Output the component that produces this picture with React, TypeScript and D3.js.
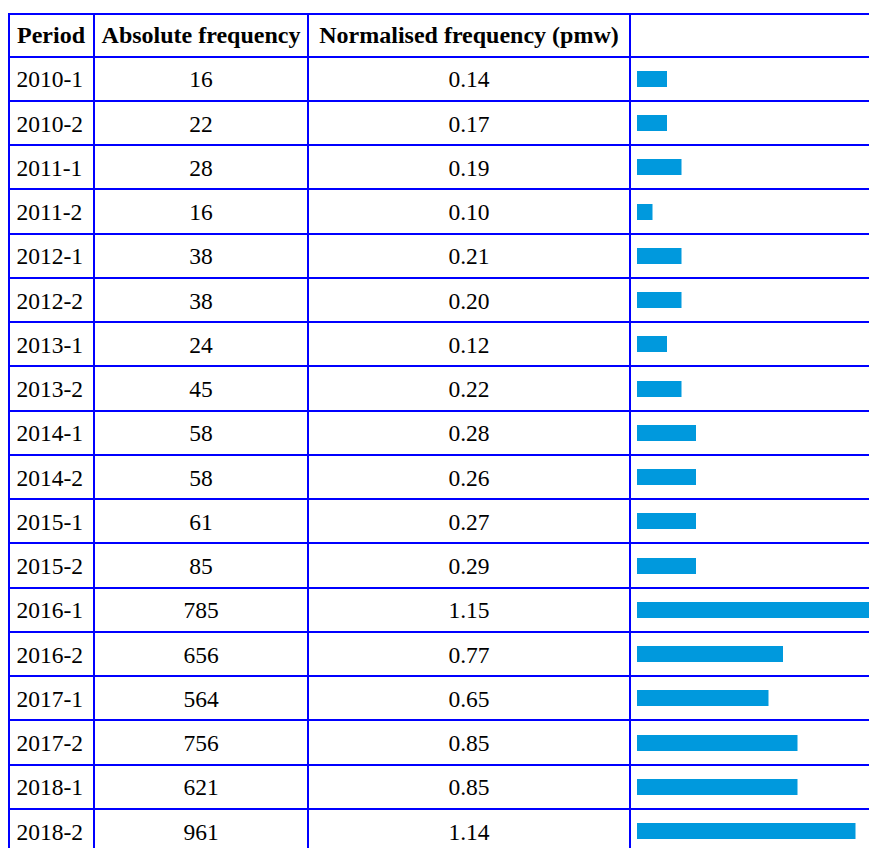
import React from "react";
import * as d3 from "d3";

const headers = ["Period", "Absolute frequency", "Normalised frequency (pmw)", ""];
const periods = [
  "2010-1", "2010-2", "2011-1", "2011-2", "2012-1", "2012-2", "2013-1", "2013-2", "2014-1",
  "2014-2", "2015-1", "2015-2", "2016-1", "2016-2", "2017-1", "2017-2", "2018-1", "2018-2",
];
const absoluteFrequency = [16, 22, 28, 16, 38, 38, 24, 45, 58, 58, 61, 85, 785, 656, 564, 756, 621, 961];
const normalisedFrequency = [0.14, 0.17, 0.19, 0.1, 0.21, 0.2, 0.12, 0.22, 0.28, 0.26, 0.27, 0.29, 1.15, 0.77, 0.65, 0.85, 0.85, 1.14];
// bar length in blocks
const barBlocks = [2, 2, 3, 1, 3, 3, 2, 3, 4, 4, 4, 4, 16, 10, 9, 11, 11, 15];

const W = 869;
const H = 848;
const BLUE = "#0000ff";
const BAR = "#0099dd";
const FONT = "'Liberation Serif', 'Times New Roman', serif";

export default function App() {
  const colEdges = [9, 94, 308, 630, 890];
  const tableTop = 14;
  const headerBottom = 56.7;
  const rowH = 44.25;

  const y = d3
    .scaleBand<string>()
    .domain(periods)
    .range([headerBottom, headerBottom + rowH * periods.length])
    .paddingInner(0)
    .paddingOuter(0);

  const barX = d3.scaleLinear().domain([0, 15]).range([1, 218.5]);
  const fmt = d3.format(".2f");
  const barStart = colEdges[3] + 7;
  const barH = 16;
  const fontSize = 23.5;
  const headerSize = 24;

  const hLines = [tableTop, headerBottom, ...periods.map((p) => (y(p) as number) + rowH)].map((v) => Math.round(v));
  const tableBottom = headerBottom + rowH * periods.length;
  const headerMid = (13.7 + headerBottom) / 2;

  return (
    <svg
      width={W}
      height={H}
      style={{ position: "absolute", left: 0, top: 0, background: "#fff" }}
      fontFamily={FONT}
    >
      <rect x={0} y={0} width={W} height={H} fill="#fff" />
      {headers.map((h, i) => (
        <text
          key={"h" + i}
          x={i === 0 ? colEdges[0] + 8 : (colEdges[i] + colEdges[i + 1]) / 2}
          y={headerMid + 8.2}
          fontSize={headerSize}
          fontWeight="bold"
          textAnchor={i === 0 ? "start" : "middle"}
          fill="#000"
        >
          {h}
        </text>
      ))}
      {periods.map((p, i) => {
        const top = y(p) as number;
        const mid = top + rowH / 2;
        return (
          <g key={p}>
            <text x={colEdges[0] + 7.5} y={mid + 8.5} fontSize={fontSize} fill="#000">
              {p}
            </text>
            <text
              x={(colEdges[1] + colEdges[2]) / 2}
              y={mid + 8.5}
              fontSize={fontSize}
              textAnchor="middle"
              fill="#000"
            >
              {absoluteFrequency[i]}
            </text>
            <text
              x={(colEdges[2] + colEdges[3]) / 2}
              y={mid + 8.5}
              fontSize={fontSize}
              textAnchor="middle"
              fill="#000"
            >
              {fmt(normalisedFrequency[i])}
            </text>
            <rect
              x={barStart}
              y={Math.round(mid - barH / 2)}
              width={barX(barBlocks[i])}
              height={barH}
              fill={BAR}
            />
          </g>
        );
      })}
      {hLines.map((ly, i) => (
        <line key={"hl" + i} x1={colEdges[0] - 1} x2={colEdges[4]} y1={ly} y2={ly} stroke={BLUE} strokeWidth={2} />
      ))}
      {colEdges.map((lx, i) => (
        <line key={"vl" + i} x1={lx} x2={lx} y1={tableTop - 1} y2={tableBottom + 1} stroke={BLUE} strokeWidth={2} />
      ))}
    </svg>
  );
}
